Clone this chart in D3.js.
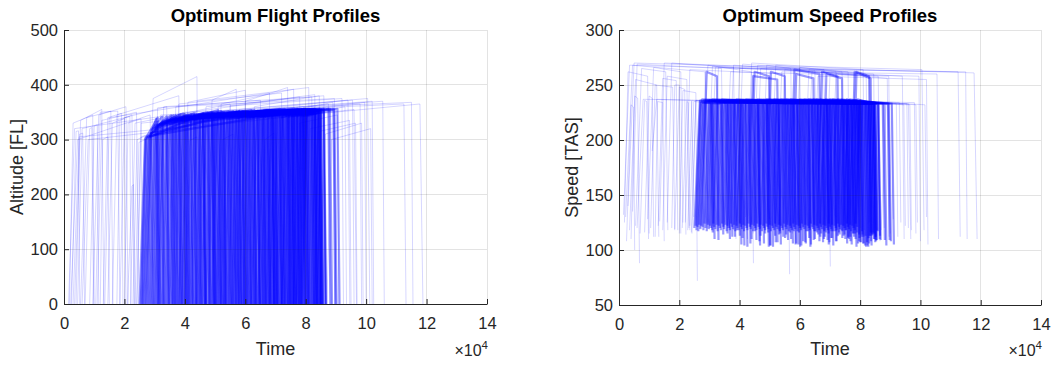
<!DOCTYPE html>
<html><head><meta charset="utf-8">
<script src="https://cdn.jsdelivr.net/npm/d3@7"></script>
<style>
html,body{margin:0;padding:0;background:#fff;}
svg{display:block;font-family:"Liberation Sans",Arial,sans-serif;}
</style></head>
<body>
<svg id="chart" width="1053" height="365"></svg>
<script>
// Time values in units of 10^4 s (as shown on the axis)
const xTicks = [0, 2, 4, 6, 8, 10, 12, 14];
const altTicks = [0, 100, 200, 300, 400, 500];
const tasTicks = [50, 100, 150, 200, 250, 300];

// Sparse (light) flights: [takeoff, top of climb, top of descent, landing]
const sparseTimes = [
[0.18,0.30,0.95,1.00],[0.22,0.45,2.85,2.95],[0.30,0.50,11.78,11.88],[0.35,0.55,1.25,1.32],
[0.40,0.52,0.62,0.68],[0.55,0.75,1.55,1.62],[0.70,0.85,0.92,0.98],[0.95,1.15,2.05,2.12],
[1.05,1.20,1.78,1.85],[1.10,1.25,2.40,2.48],[1.20,1.28,1.45,1.50],[1.45,1.60,2.25,2.32],
[1.60,1.75,3.80,3.88],[1.75,1.85,2.00,2.05],[2.10,2.25,2.30,2.35],[2.70,2.95,4.40,4.45],
[2.00,2.12,2.55,2.60],[0.25,0.40,0.48,0.52],[0.85,1.00,1.10,1.15],[1.30,1.45,1.90,1.95],
[1.85,2.00,2.18,2.22],[0.45,0.60,3.40,3.48],[0.60,0.80,9.60,9.68],[2.28,2.42,3.60,3.66],
[2.35,2.48,2.90,2.95],[2.42,2.55,4.20,4.26],[5.10,5.25,5.60,5.66],[4.00,4.15,4.40,4.46],
[6.50,6.65,6.95,7.01],
[3.00,3.20,11.25,11.32],[3.80,4.00,11.50,11.55],[4.40,4.60,10.05,10.12],[5.20,5.40,10.55,10.60],
[6.00,6.15,9.80,9.85],[5.60,5.80,9.55,9.60],[6.80,7.00,9.95,10.00],[7.20,7.40,9.30,9.35],
[4.90,5.10,9.20,9.25],[7.60,7.80,9.05,9.10],[8.00,8.15,9.45,9.50],[3.50,3.70,8.95,9.00],
[8.30,8.45,9.65,9.70],[6.40,6.60,10.20,10.25],[4.20,4.40,8.10,8.15],[5.00,5.20,7.60,7.65],
[6.10,6.30,8.45,8.50],[2.40,2.55,8.75,8.80],
[3.10,3.30,8.20,8.26],[3.60,3.80,7.20,7.26],[4.50,4.70,8.60,8.66],[5.30,5.50,8.30,8.36],
[2.90,3.10,6.50,6.56],[6.20,6.40,9.40,9.46],[3.90,4.10,6.00,6.06],[7.00,7.20,8.90,8.96],
[5.80,6.00,7.40,7.46],[4.70,4.90,5.70,5.76],[0.15,0.35,7.80,7.86],[1.35,1.50,6.80,6.86],
[8.50,8.65,9.85,9.90],[8.70,8.85,10.15,10.20],[2.20,2.35,5.50,5.56]
];
// Altitude [FL] at top of climb and top of descent
const sparseAlt = [
[330,345],[300,345],[305,365],[335,355],[310,312],[340,352],[320,322],[345,360],
[350,352],[335,350],[300,305],[330,345],[345,380],[335,338],[215,218],[375,415],
[330,338],[315,316],[325,327],[340,348],[340,342],[320,360],[300,355],[300,330],
[295,305],[305,335],[300,310],[298,305],[300,312],
[345,365],[350,368],[350,375],[350,370],[345,365],[355,372],[350,368],[340,360],
[360,375],[330,345],[320,335],[360,375],[315,330],[355,370],[370,395],[365,392],
[360,380],[330,365],
[360,378],[365,385],[360,380],[362,382],[358,372],[355,372],[368,390],[350,368],
[370,395],[372,392],[320,378],[340,385],[310,330],[300,320],[330,365]
];
// True airspeed at takeoff, top of climb, top of descent, landing
const sparseTAS = [
[125,262,258,115],[130,268,262,120],[140,270,261,110],[118,255,250,112],
[110,240,238,88],[122,265,262,118],[115,236,235,110],[128,266,262,125],
[120,250,248,118],[190,237,236,130],[112,235,234,108],[118,258,255,120],
[125,270,266,110],[120,250,250,115],[120,235,234,118],[120,268,262,115],
[115,245,243,72],[108,232,230,100],[116,240,238,112],[122,256,254,118],
[119,248,246,114],[135,269,265,122],[120,237,233,110],[118,236,234,120],
[122,235,234,125],[115,236,234,110],[120,236,234,78],[125,235,234,88],
[122,235,234,85],
[120,266,262,112],[118,265,262,110],[125,268,264,118],[122,262,260,110],
[120,236,234,115],[125,236,233,120],[118,260,258,108],[130,236,234,125],
[122,235,233,112],[128,235,233,128],[120,234,232,122],[125,262,258,115],
[125,233,232,118],[120,258,255,105],[130,270,264,118],[128,268,262,115],
[120,264,260,112],[116,236,233,120],
[122,266,260,110],[120,268,262,112],[125,265,258,108],[118,264,258,115],
[124,267,263,118],[120,262,258,110],[126,269,265,120],[122,260,256,112],
[125,266,262,118],[120,268,265,115],[132,268,262,112],[126,270,264,118],
[120,234,232,125],[118,234,232,130],[125,264,260,112]
];

// Dense traffic block
const denseTimes = [
[2.50,2.68,3.10,3.17],[2.54,2.70,5.80,5.88],[2.57,2.72,3.40,3.46],[2.60,2.76,7.90,7.97],
[2.63,2.80,3.05,3.11],[2.66,2.82,4.60,4.68],[2.70,2.86,3.70,3.76],[2.73,2.88,6.40,6.48],
[2.77,2.90,3.25,3.30],[2.80,2.95,5.10,5.18],[2.84,3.00,4.00,4.06],[2.87,3.02,8.20,8.28],
[2.91,3.06,3.55,3.60],[2.95,3.10,6.90,6.98],[2.98,3.12,3.85,3.92],[3.02,3.18,4.90,4.97],
[3.05,3.20,3.62,3.68],[3.09,3.25,7.40,7.48],[3.13,3.28,4.30,4.36],[3.16,3.30,3.80,3.85],
[3.20,3.35,5.60,5.68],[3.24,3.40,4.10,4.16],[3.27,3.42,8.45,8.52],[3.31,3.46,3.95,4.01],
[3.35,3.50,6.10,6.18],[3.38,3.52,4.45,4.51],[3.42,3.58,5.30,5.37],[3.46,3.60,4.05,4.10],
[3.49,3.64,7.70,7.78],[3.53,3.68,4.60,4.66],[3.57,3.72,4.20,4.26],[3.60,3.75,6.60,6.68],
[3.64,3.80,4.75,4.81],[3.68,3.82,5.90,5.97],[3.71,3.86,4.35,4.40],[3.75,3.90,8.00,8.08],
[3.79,3.94,4.95,5.01],[3.82,3.96,4.50,4.56],[3.86,4.02,7.10,7.18],[3.90,4.05,5.20,5.26],
[3.93,4.08,4.65,4.70],[3.97,4.12,6.30,6.37],[4.01,4.16,5.45,5.51],[4.04,4.20,4.80,4.85],
[4.08,4.22,7.62,7.68],[4.12,4.28,5.05,5.11],[4.15,4.30,6.75,6.83],[4.19,4.34,4.90,4.95],
[4.23,4.38,5.70,5.77],[4.26,4.40,7.55,7.63],[4.30,4.45,5.25,5.31],[4.34,4.50,4.98,5.03],
[4.37,4.52,6.20,6.27],[4.41,4.56,5.55,5.61],[4.45,4.60,8.30,8.38],[4.48,4.62,5.15,5.20],
[4.52,4.68,6.95,7.03],[4.56,4.70,5.80,5.86],[4.59,4.74,5.30,5.35],[4.63,4.78,7.30,7.38],
[4.67,4.82,6.05,6.11],[4.70,4.86,5.40,5.45],[4.74,4.90,8.80,8.87],[4.78,4.92,6.50,6.57],
[4.81,4.96,5.65,5.71],[4.85,5.00,7.85,7.93],[4.89,5.04,5.50,5.55],[4.92,5.06,6.85,6.92],
[4.96,5.10,5.95,6.01],[5.00,5.15,8.10,8.18],[5.04,5.20,5.75,5.80],[5.07,5.22,6.70,6.77],
[5.11,5.26,6.25,6.31],[5.15,5.30,7.75,7.83],[5.18,5.34,5.90,5.95],[5.22,5.38,8.40,8.48],
[5.26,5.40,6.55,6.61],[5.30,5.45,7.15,7.22],[5.33,5.48,6.00,6.05],[5.37,5.52,6.80,6.86],
[5.41,5.56,7.98,8.05],[5.44,5.60,6.15,6.20],[5.48,5.62,7.45,7.53],[5.52,5.68,6.40,6.46],
[5.56,5.70,8.25,8.33],[5.59,5.74,6.30,6.35],[5.63,5.78,7.00,7.07],[5.67,5.82,6.65,6.71],
[5.70,5.86,7.95,8.03],[5.74,5.88,6.45,6.50],[5.78,5.92,7.25,7.32],[5.81,5.96,6.90,6.96],
[5.85,6.00,8.50,8.58],[5.89,6.04,6.60,6.65],[5.92,6.08,7.60,7.68],[5.96,6.10,7.05,7.11],
[6.00,6.15,8.35,8.43],[6.04,6.18,6.75,6.80],[6.07,6.22,7.50,7.57],[6.11,6.26,7.20,7.26],
[6.15,6.30,8.92,8.98],[6.18,6.34,6.90,6.95],[6.22,6.38,7.80,7.88],[6.26,6.40,7.35,7.41],
[6.30,6.45,8.15,8.23],[6.33,6.48,7.00,7.05],[6.37,6.52,7.65,7.72],[6.41,6.56,7.72,7.80],
[6.44,6.60,7.15,7.20],[6.48,6.62,7.90,7.97],[6.52,6.68,7.45,7.51],[6.56,6.70,8.30,8.38],
[6.59,6.74,7.25,7.30],[6.63,6.78,8.05,8.12],[6.67,6.82,7.55,7.61],[6.70,6.86,8.60,8.68],
[6.74,6.88,7.40,7.45],[6.78,6.92,8.20,8.27],[6.81,6.96,7.70,7.76],[6.85,7.00,8.45,8.53],
[6.89,7.04,7.55,7.60],[6.93,7.08,8.00,8.06],[6.96,7.10,9.05,9.12],[7.00,7.15,7.80,7.85],
[7.04,7.20,8.35,8.42],[7.07,7.22,7.95,8.00],[7.11,7.26,8.05,8.11],[7.15,7.30,8.10,8.16],
[7.19,7.34,7.85,7.90],[7.22,7.38,8.75,8.82],[7.26,7.40,8.25,8.31],[7.30,7.45,8.05,8.10],
[7.33,7.48,8.50,8.57],[7.37,7.52,8.30,8.36],[7.41,7.56,7.92,7.98],[7.44,7.60,8.15,8.20],
[7.48,7.62,8.40,8.47],[7.52,7.66,8.58,8.65],[7.56,7.70,8.25,8.30],[7.59,7.74,8.45,8.52],
[7.63,7.78,8.95,9.02],[7.67,7.82,8.35,8.40],[7.70,7.86,8.18,8.24],[7.74,7.88,8.30,8.35],
[7.78,7.92,8.40,8.46],[7.82,7.96,8.45,8.50],[7.85,8.00,8.60,8.66],[7.90,8.05,8.50,8.56]
];
const denseAlt = [
[300,340],[304,352],[300,342],[306,354],[298,338],[304,348],[310,344],[312,352],
[318,342],[320,354],[322,346],[326,352],[324,344],[328,354],[326,346],[330,350],
[328,344],[330,354],[332,348],[328,342],[334,352],[330,346],[334,356],[336,348],
[332,352],[336,346],[334,350],[330,344],[336,354],[338,348],[334,346],[336,352],
[338,350],[334,352],[340,348],[336,356],[338,350],[334,346],[340,354],[338,352],
[336,348],[340,354],[342,352],[338,348],[340,356],[336,350],[342,354],[338,348],
[340,352],[342,356],[338,350],[340,346],[342,354],[338,350],[344,356],[340,348],
[342,354],[338,352],[340,348],[344,356],[340,352],[342,348],[338,356],[344,352],
[340,350],[342,356],[338,348],[344,354],[340,352],[342,356],[338,350],[344,354],
[342,352],[340,356],[344,350],[338,354],[342,352],[344,356],[340,348],[342,354],
[344,356],[340,350],[342,354],[338,352],[344,356],[340,348],[342,354],[344,352],
[340,356],[342,350],[344,354],[338,352],[342,356],[344,348],[340,354],[342,352],
[344,356],[340,350],[342,354],[346,352],[342,356],[344,350],[340,354],[346,352],
[342,356],[344,350],[346,354],[340,356],[344,352],[342,354],[346,350],[344,356],
[340,350],[346,354],[342,352],[344,356],[346,350],[342,354],[344,352],[346,356],
[342,350],[344,354],[346,356],[340,350],[344,354],[346,352],[342,356],[344,350],
[346,352],[344,356],[342,354],[346,350],[344,354],[342,352],[346,356],[344,350],
[346,354],[342,356],[344,352],[346,354],[342,354],[344,350],[346,354],[342,350],
[346,354],[344,350],[342,352],[346,350]
];
const denseTAS = [
[120,235,234,110],[122,236,233,106],[118,234,233,114],[121,237,233,108],
[117,234,234,116],[123,236,234,104],[119,235,234,112],[122,236,233,117],
[121,262,258,109],[118,236,233,113],[124,236,234,105],[120,236,233,111],
[117,234,234,115],[123,237,233,107],[119,235,234,118],[122,236,234,103],
[120,234,234,110],[118,236,233,114],[124,235,234,106],[121,234,234,112],
[119,236,233,116],[123,235,234,104],[117,237,233,109],[122,234,234,113],
[120,236,233,107],[118,235,234,117],[124,236,234,105],[121,234,234,111],
[119,236,233,115],[123,235,234,108],[117,234,234,103],[122,236,233,112],
[120,235,234,106],[118,236,233,116],[124,234,234,110],[121,237,233,114],
[119,235,234,104],[123,234,234,109],[117,236,233,117],[122,235,234,107],
[120,234,234,113],[118,236,233,105],[124,235,234,111],[121,234,234,115],
[119,237,233,108],[123,235,234,103],[117,236,233,112],[122,234,234,116],
[120,236,234,106],[118,236,233,110],[124,258,255,114],[121,262,258,104],
[119,236,233,117],[123,235,234,109],[117,237,233,113],[122,234,234,107],
[120,236,233,111],[118,235,234,105],[124,234,234,115],[121,236,233,118],
[119,235,234,108],[123,234,234,112],[117,237,233,104],[122,236,233,116],
[120,235,234,110],[118,236,233,106],[124,262,258,114],[121,236,233,109],
[119,235,234,103],[123,237,233,113],[117,234,234,117],[122,236,233,107],
[120,235,234,111],[118,236,233,115],[124,234,234,105],[121,237,233,110],
[119,235,234,114],[123,236,233,108],[117,234,234,104],[122,235,234,116],
[120,237,233,112],[118,234,234,106],[124,236,233,118],[121,235,234,109],
[119,237,233,113],[123,234,234,103],[117,236,233,111],[122,264,260,115],
[120,236,233,107],[118,260,256,110],[124,236,233,114],[121,235,234,105],
[119,237,233,117],[123,234,234,108],[117,236,233,112],[122,235,234,104],
[120,237,233,116],[118,234,234,110],[124,236,233,106],[121,235,234,113],
[119,237,233,109],[123,234,234,115],[117,236,233,103],[122,235,234,111],
[120,237,233,107],[118,234,234,117],[124,236,233,105],[121,237,233,112],
[119,234,234,108],[123,236,233,114],[117,235,234,110],[122,237,233,104],
[120,262,258,116],[118,236,233,106],[124,236,233,112],[121,237,233,109],
[119,260,256,113],[123,236,233,103],[117,235,234,115],[122,237,233,108],
[120,234,234,111],[118,236,233,117],[124,237,233,105],[121,235,234,110],
[119,236,233,114],[123,234,234,107],[117,237,233,112],[122,235,234,104],
[120,234,234,116],[118,237,233,109],[124,236,233,113],[121,234,234,106],
[119,236,233,118],[123,235,234,108],[117,237,233,111],[122,234,234,103],
[120,236,233,115],[118,237,233,110],[124,234,234,106],[121,236,233,112],
[119,236,233,108],[123,262,256,114],[117,236,233,104],[122,262,258,116],
[120,237,233,110],[118,235,234,107],[124,236,233,113],[121,234,234,109]
];

const svg = d3.select("#chart");
const axisColor = "#262626";

function altPath(t, a) {
  return [[t[0], 0], [t[1], a[0]], [t[2], a[1]], [t[3], 0]];
}
function tasPath(t, s) {
  return [[t[0], s[0]], [t[1], s[1]], [t[2], s[2]], [t[3], s[3]]];
}

function panel(opts) {
  const { left, right, top, bottom, yDomain, yTicks, title, ylabel, build, valuesSparse, valuesDense, clipId } = opts;
  const x = d3.scaleLinear().domain([0, 14]).range([left, right]);
  const y = d3.scaleLinear().domain(yDomain).range([bottom, top]);
  const g = svg.append("g");

  g.append("defs").append("clipPath").attr("id", clipId)
    .append("rect").attr("x", left).attr("y", top).attr("width", right - left).attr("height", bottom - top);

  const line = d3.line().x(d => x(d[0])).y(d => y(d[1]));
  const data = g.append("g").attr("clip-path", `url(#${clipId})`);

  data.selectAll("path.sparse")
    .data(sparseTimes.map((t, i) => build(t, valuesSparse[i])))
    .join("path").attr("class", "sparse")
    .attr("d", line).attr("fill", "none")
    .attr("stroke", "#0000ff").attr("stroke-width", 1).attr("stroke-opacity", 0.16);

  data.selectAll("path.dense")
    .data(denseTimes.map((t, i) => build(t, valuesDense[i])))
    .join("path").attr("class", "dense")
    .attr("d", line).attr("fill", "none")
    .attr("stroke", "#0000ff").attr("stroke-width", 2.2).attr("stroke-opacity", 0.4)
    .attr("stroke-linejoin", "round");

  // grid
  const grid = g.append("g").attr("stroke", "#262626").attr("stroke-opacity", 0.13).attr("stroke-width", 1);
  xTicks.forEach(v => grid.append("line").attr("x1", x(v)).attr("x2", x(v)).attr("y1", top).attr("y2", bottom).attr("shape-rendering", "crispEdges"));
  yTicks.forEach(v => grid.append("line").attr("x1", left).attr("x2", right).attr("y1", y(v)).attr("y2", y(v)).attr("shape-rendering", "crispEdges"));

  // axes
  const xAxis = d3.axisBottom(x).tickValues(xTicks).tickFormat(d3.format("d")).tickSizeInner(-5).tickSizeOuter(0).tickPadding(13);
  const yAxis = d3.axisLeft(y).tickValues(yTicks).tickFormat(d3.format("d")).tickSizeInner(-5).tickSizeOuter(0).tickPadding(6);
  const gx = g.append("g").attr("transform", `translate(0,${bottom})`).call(xAxis);
  const gy = g.append("g").attr("transform", `translate(${left},0)`).call(yAxis);
  [gx, gy].forEach(a => {
    a.select(".domain").attr("stroke", axisColor).attr("stroke-width", 1);
    a.selectAll(".tick line").attr("stroke", axisColor);
    a.selectAll(".tick text").attr("fill", axisColor).attr("font-size", 16.5).attr("font-family", "Liberation Sans, Arial, sans-serif");
  });

  g.append("text").attr("x", (left + right) / 2).attr("y", 22).attr("text-anchor", "middle")
    .attr("font-size", 18.5).attr("font-weight", "bold").attr("fill", "#000").text(title);
  g.append("text").attr("x", (left + right) / 2).attr("y", 355).attr("text-anchor", "middle")
    .attr("font-size", 18).attr("fill", axisColor).text("Time");
  g.append("text").attr("transform", `translate(${left - 41},${(top + bottom) / 2}) rotate(-90)`)
    .attr("text-anchor", "middle").attr("font-size", 18).attr("fill", axisColor).text(ylabel);
  const ex = g.append("text").attr("x", right + 1).attr("y", 356).attr("text-anchor", "end")
    .attr("font-size", 16).attr("fill", axisColor);
  ex.append("tspan").text("\u00d710");
  ex.append("tspan").attr("dy", -7).attr("font-size", 11.5).text("4");
}

panel({ left: 64, right: 487, top: 30, bottom: 304, yDomain: [0, 500], yTicks: altTicks,
  title: "Optimum Flight Profiles", ylabel: "Altitude [FL]", build: altPath,
  valuesSparse: sparseAlt, valuesDense: denseAlt, clipId: "c1" });
panel({ left: 619, right: 1041, top: 30, bottom: 305, yDomain: [50, 300], yTicks: tasTicks,
  title: "Optimum Speed Profiles", ylabel: "Speed [TAS]", build: tasPath,
  valuesSparse: sparseTAS, valuesDense: denseTAS, clipId: "c2" });
</script>
</body></html>
